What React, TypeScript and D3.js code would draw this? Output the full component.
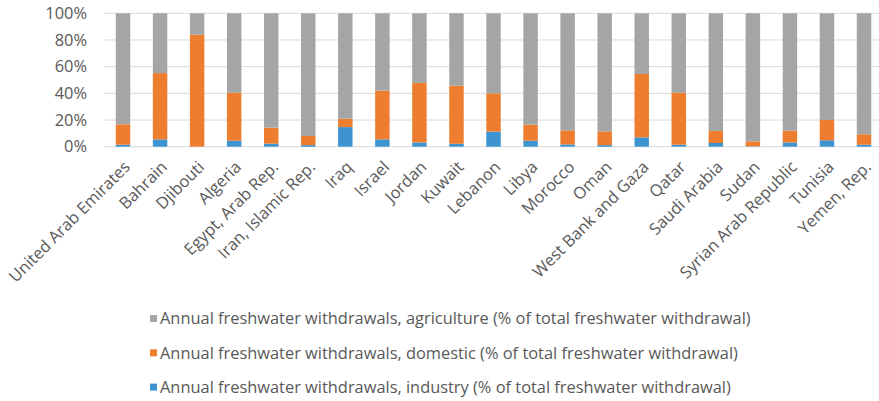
// App.tsx
import React, { useEffect, useRef } from 'react';
import * as d3 from 'd3';

// Countries along the x axis
const countries = [
  'United Arab Emirates', 'Bahrain', 'Djibouti', 'Algeria', 'Egypt, Arab Rep.',
  'Iran, Islamic Rep.', 'Iraq', 'Israel', 'Jordan', 'Kuwait', 'Lebanon', 'Libya',
  'Morocco', 'Oman', 'West Bank and Gaza', 'Qatar', 'Saudi Arabia', 'Sudan',
  'Syrian Arab Republic', 'Tunisia', 'Yemen, Rep.',
];

// Share of total freshwater withdrawal (%)
const industry = [1.5, 5.5, 0, 4.5, 2.3, 1.2, 14.7, 5.5, 3.2, 2.2, 11.3, 4.5, 1.7, 1.2, 7, 1.5, 2.8, 0.3, 3.2, 4.8, 1.5];
const domestic = [15.3, 49.7, 84, 36, 12, 6.8, 6.3, 36.5, 44.6, 43.6, 28.7, 12, 10.5, 10.3, 47.5, 39, 9, 3.7, 8.8, 15.2, 7.8];
const agriculture = [83.2, 44.8, 16, 59.5, 85.7, 92, 79, 58, 52.2, 54.2, 60, 83.5, 87.8, 88.5, 45.5, 59.5, 88.2, 96, 88, 80, 90.7];

const yTicks = [0, 20, 40, 60, 80, 100];

// Series in stacking order (bottom first)
const seriesKeys = ['industry', 'domestic', 'agriculture'];
const seriesNames: Record<string, string> = {
  agriculture: 'Annual freshwater withdrawals, agriculture (% of total freshwater withdrawal)',
  domestic: 'Annual freshwater withdrawals, domestic (% of total freshwater withdrawal)',
  industry: 'Annual freshwater withdrawals, industry (% of total freshwater withdrawal)',
};
const colors: Record<string, string> = {
  industry: '#3d94d1',
  domestic: '#ef7d2f',
  agriculture: '#a5a5a5',
};
const legendOrder = ['agriculture', 'domestic', 'industry'];

const FONT = '"Open Sans", sans-serif';
const FONT_SIZE = 16.4;

const App = () => {
  const ref = useRef<SVGSVGElement>(null);

  useEffect(() => {
    document.body.style.margin = '0';
    if (!ref.current) return;
    const svg = d3.select(ref.current);
    svg.selectAll('*').remove();

    const left = 104.5, top = 13.3, bottom = 146.7;
    const band = 37.05;

    const x = d3.scaleBand<string>()
      .domain(countries)
      .range([left, left + band * countries.length])
      .paddingInner(0.61)
      .paddingOuter(0.305);

    const y = d3.scaleLinear().domain([0, 100]).range([bottom, top]);

    // gridlines
    svg.append('g')
      .selectAll('line')
      .data(yTicks)
      .join('line')
      .attr('x1', left)
      .attr('x2', 879)
      .attr('y1', d => y(d))
      .attr('y2', d => y(d))
      .attr('stroke', '#d9d9d9')
      .attr('stroke-width', 1);

    // y tick labels
    svg.append('g')
      .selectAll('text')
      .data(yTicks)
      .join('text')
      .attr('x', 87)
      .attr('y', d => y(d))
      .attr('dy', '0.35em')
      .attr('text-anchor', 'end')
      .attr('font-family', FONT)
      .attr('font-size', FONT_SIZE)
      .attr('fill', '#595959')
      .text(d => `${d}%`);

    // stacked bars
    const rows = countries.map((c, i) => ({
      country: c,
      industry: industry[i],
      domestic: domestic[i],
      agriculture: agriculture[i],
    }));
    const stacked = d3.stack<any>().keys(seriesKeys).offset(d3.stackOffsetExpand)(rows);

    svg.append('g')
      .selectAll('g')
      .data(stacked)
      .join('g')
      .attr('fill', s => colors[s.key])
      .selectAll('rect')
      .data(s => s)
      .join('rect')
      .attr('x', d => x(d.data.country) ?? 0)
      .attr('width', x.bandwidth())
      .attr('y', d => y(d[1] * 100))
      .attr('height', d => y(d[0] * 100) - y(d[1] * 100));

    // x labels, rotated
    svg.append('g')
      .selectAll('text')
      .data(countries)
      .join('text')
      .attr('transform', d => `translate(${(x(d) ?? 0) + x.bandwidth() / 2 + 4},${164}) rotate(-45)`)
      .attr('text-anchor', 'end')
      .attr('dy', '0.35em')
      .attr('font-family', FONT)
      .attr('font-size', FONT_SIZE)
      .attr('fill', '#595959')
      .text(d => d);

    // legend
    const legend = svg.append('g')
      .selectAll('g')
      .data(legendOrder)
      .join('g')
      .attr('transform', (d, i) => `translate(150,${318.5 + i * 34.3})`);

    legend.append('rect')
      .attr('x', 0)
      .attr('y', -3.5)
      .attr('width', 7)
      .attr('height', 7)
      .attr('fill', d => colors[d]);

    legend.append('text')
      .attr('x', 10)
      .attr('dy', '0.35em')
      .attr('font-family', FONT)
      .attr('font-size', FONT_SIZE)
      .attr('fill', '#595959')
      .text(d => seriesNames[d]);
  }, []);

  return <svg ref={ref} width={879} height={401} style={{ display: 'block', background: '#fff' }} />;
};

export default App;
